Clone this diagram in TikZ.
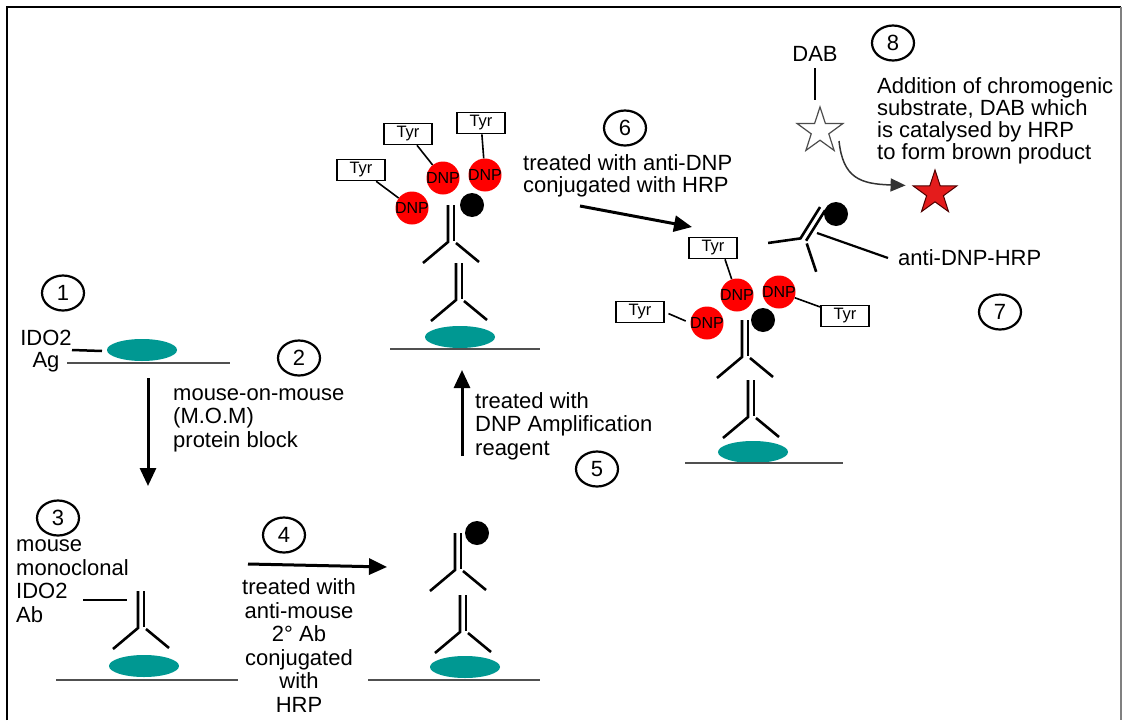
\documentclass[tikz,border=0pt]{standalone}
\usepackage{fontspec}
\setmainfont{Liberation Sans}
\usetikzlibrary{shapes.geometric,arrows.meta}

\definecolor{antigen}{RGB}{0,152,146}
\definecolor{slide}{RGB}{80,80,80}
\definecolor{dnpred}{RGB}{255,0,0}
\definecolor{brown}{RGB}{228,28,28}

\begin{document}
\begin{tikzpicture}[x=1pt, y=-1pt,
  txt/.style={font=\fontsize{22}{23.5}\selectfont, inner sep=0pt},
  num/.style={draw, ellipse, line width=2.2pt, minimum width=42pt, minimum height=35pt,
    inner sep=0pt, font=\fontsize{22}{22}\selectfont},
  tyr/.style={draw, line width=1.6pt, minimum width=48pt, minimum height=21pt,
    inner sep=0pt, font=\fontsize{16.5}{16.5}\selectfont},
  dnp/.style={circle, fill=dnpred, minimum size=33pt, inner sep=0pt,
    font=\fontsize{16}{16}\selectfont},
  ag/.style={ellipse, fill=antigen, minimum width=70pt, minimum height=22pt, inner sep=0pt},
  link/.style={line width=1.6pt},
  flow/.style={line width=3pt, -{Triangle[length=18pt,width=16pt]}},
  ground/.style={slide, line width=1.6pt},
  hrp/.style={fill=black},
  antibody/.pic={
    \draw[line width=2.6pt] (-3,-37) -- (-3,0) -- (-28,21);
    \draw[line width=2.6pt] (3,-37) -- (3,-1);
    \draw[line width=2.6pt] (5,1) -- (28,20);
  }
]
\useasboundingbox (0,0) rectangle (1124,720);

% Frame
\draw[line width=2.5pt] (7,720) -- (7,7) -- (1121,7);
\draw[line width=1.2pt, gray] (1121,7) -- (1121,720);

% Step 1: antigen on the slide
\node[num] (n1) at (63,293) {1};
\node[txt, align=center, anchor=base, font=\fontsize{22}{22}\selectfont] (ido) at (46,367) {IDO2\\Ag};
\node[ag] (agA) at (142,350) {};
\draw[ground] (67,363) -- (230,363);
\draw[line width=2.5pt] (72,350) -- (102,351);

% Step 2: blocking
\node[num] (n2) at (299,358) {2};
\node[txt, align=left, anchor=base west] (t2) at (173,447) {mouse-on-mouse\\(M.O.M)\\protein block};
\draw[flow] (148,378) -- (148,486);

% Step 3: primary antibody
\node[num] (n3) at (58,518) {3};
\node[txt, align=left, anchor=base west] (t3) at (16,622) {mouse\\monoclonal\\IDO2\\Ab};
\node[ag] (agB) at (144,666) {};
\draw[ground] (56,680) -- (238,680);
\pic at (141,628) {antibody};
\draw[line width=2.5pt] (83,600) -- (127,600);

% Step 4: secondary antibody with HRP
\node[num] (n4) at (284,535) {4};
\draw[flow] (248,564) -- (387,567);
\node[txt, align=center, anchor=base] (t4) at (299,712) {treated with\\anti-mouse\\2° Ab\\conjugated\\with\\HRP};
\node[ag] (agC) at (465,667) {};
\draw[ground] (368,680) -- (540,680);
\pic at (463,632) {antibody};
\pic at (458,570) {antibody};
\fill[hrp] (477,533) circle[radius=12];

% Step 5: DNP amplification
\draw[flow] (462,456) -- (462,370);
\node[txt, align=left, anchor=base west] (t5) at (475,455) {treated with\\DNP Amplification\\reagent};
\node[num] (n5) at (597,469) {5};
\node[ag] (agD) at (460,337) {};
\draw[ground] (390,349) -- (540,349);
\pic at (459,300) {antibody};
\pic at (451,242) {antibody};
\fill[hrp] (472,205) circle[radius=12];
\node[dnp] (dnpA) at (412,208) {\makebox[0pt]{DNP}};
\node[dnp] (dnpB) at (443,178) {\makebox[0pt]{DNP}};
\node[dnp] (dnpC) at (485,175) {\makebox[0pt]{DNP}};
\node[tyr] (tyrA) at (361,170) {Tyr};
\node[tyr] (tyrB) at (408,134) {Tyr};
\node[tyr] (tyrC) at (481,123) {Tyr};
\draw[link] (tyrA) -- (dnpA);
\draw[link] (tyrB) -- (dnpB);
\draw[link] (tyrC) -- (dnpC);

% Step 6: anti-DNP conjugated with HRP
\node[num] (n6) at (625,128) {6};
\node[txt, align=left, anchor=base west, font=\fontsize{22}{22}\selectfont] (t6) at (523,192) {treated with anti-DNP\\conjugated with HRP};
\draw[flow] (580,206) -- (692,227);

% Step 7: bound and free anti-DNP-HRP
\node[ag] (agE) at (753,452) {};
\draw[ground] (685,463) -- (843,463);
\pic at (751,417) {antibody};
\pic at (745,357) {antibody};
\fill[hrp] (763,320) circle[radius=12];
\node[dnp] (dnpD) at (707,323) {\makebox[0pt]{DNP}};
\node[dnp] (dnpE) at (737,295) {\makebox[0pt]{DNP}};
\node[dnp] (dnpF) at (779,292) {\makebox[0pt]{DNP}};
\node[tyr] (tyrD) at (713,248) {Tyr};
\node[tyr] (tyrE) at (640,312) {Tyr};
\node[tyr] (tyrF) at (845,316) {Tyr};
\draw[link] ([xshift=12pt]tyrD.south) -- (dnpE);
\draw[link, shorten <=4pt, shorten >=5pt] (tyrE.east) -- (dnpD.west);
\draw[link] (dnpF) -- (tyrF);
\pic[rotate=-32] at (803,240) {antibody};
\fill[hrp] (836,214) circle[radius=12];
\draw[line width=2.2pt] (817,233) -- (888,258);
\node[txt, anchor=base west] (t7) at (898,265) {anti-DNP-HRP};
\node[num] (n7) at (1000,312) {7};

% Step 8: DAB turned into brown product
\node[num] (n8) at (893,43) {8};
\node[txt, anchor=base] (dab) at (815,61) {DAB};
\node[star, star points=5, star point ratio=2.6, minimum size=48pt, inner sep=0pt,
  draw=black!70, line width=1.2pt, fill=white] (dabW) at (820,131) {};
\node[star, star points=5, star point ratio=2.6, minimum size=46pt, inner sep=0pt,
  draw=black!70!red, line width=1pt, fill=brown] (dabB) at (935,193) {};
\draw[line width=2.5pt, shorten <=7pt, shorten >=5pt] (dab.south) -- (dab.south |- dabW.north);
\draw[black!80, line width=1.5pt, -{Triangle[length=15pt,width=13pt]}]
  (839,141) .. controls (843,178) and (860,184) .. ([xshift=-6pt]dabB.outer point 2);
\node[txt, align=left, anchor=base west, font=\fontsize{22}{21.7}\selectfont] (t8) at (877,159)
  {Addition of chromogenic\\substrate, DAB which\\is catalysed by HRP\\to form brown product};

\end{tikzpicture}
\end{document}
